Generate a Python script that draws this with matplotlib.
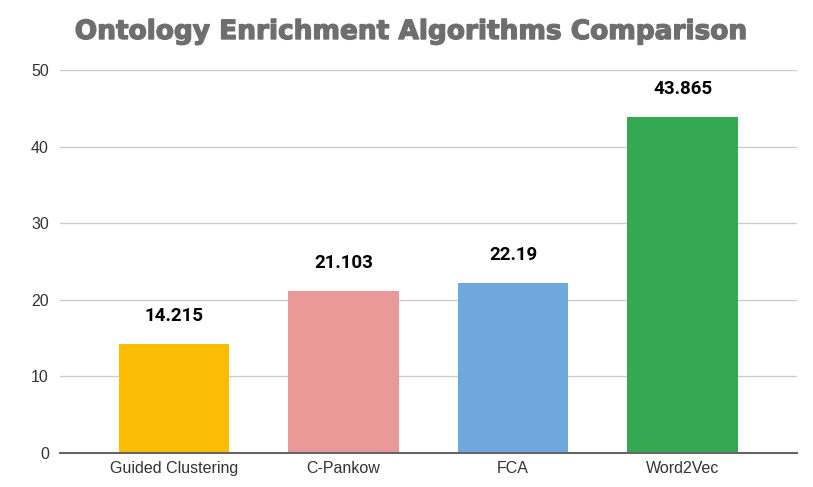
import matplotlib
matplotlib.use("Agg")
import matplotlib.pyplot as plt
import matplotlib.patheffects as pe

categories = ["Guided Clustering", "C-Pankow", "FCA", "Word2Vec"]
values = [14.215, 21.103, 22.19, 43.865]
labels = ["14.215", "21.103", "22.19", "43.865"]
colors = ["#FBBC04", "#EA9999", "#6FA8DC", "#34A853"]
yticks = [0, 10, 20, 30, 40, 50]

fig = plt.figure(figsize=(8.13, 4.87), dpi=100)
ax = fig.add_axes([60/813, 34/487, 737/813, 383/487])

x = list(range(len(categories)))
ax.bar(x, values, width=0.65, color=colors, zorder=3)
for xi, v, lab in zip(x, values, labels):
    ax.annotate(lab, (xi, v), xytext=(0, 20.5), textcoords="offset points",
                ha="center", va="center", fontsize=13.5, fontweight="bold",
                color="#000000", family="Roboto")

ax.set_xlim(-0.673, 3.675)
ax.set_ylim(0, 50)
ax.set_yticks(yticks)
ax.set_xticks(x)
ax.set_xticklabels(categories)
ax.grid(axis="y", color="#CCCCCC", linewidth=1, zorder=0)
for s in ["top", "right", "left"]:
    ax.spines[s].set_visible(False)
ax.spines["bottom"].set_color("#666666")
ax.spines["bottom"].set_linewidth(1.5)
ax.spines["bottom"].set_zorder(4)
ax.tick_params(axis="both", length=0, labelsize=11.5, labelcolor="#333333")
ax.tick_params(axis="y", pad=8)
ax.tick_params(axis="x", pad=6)
for t in ax.get_xticklabels() + ax.get_yticklabels():
    t.set_family("Liberation Sans")

fig.text(411/813, 1 - 32/487, "Ontology Enrichment Algorithms Comparison",
         ha="center", va="center", fontsize=19, fontweight="bold",
         color="#6E6E6E", family="DejaVu Sans",
         path_effects=[pe.withStroke(linewidth=1.0, foreground="#6E6E6E")])

fig.savefig("out.png", dpi=100)
